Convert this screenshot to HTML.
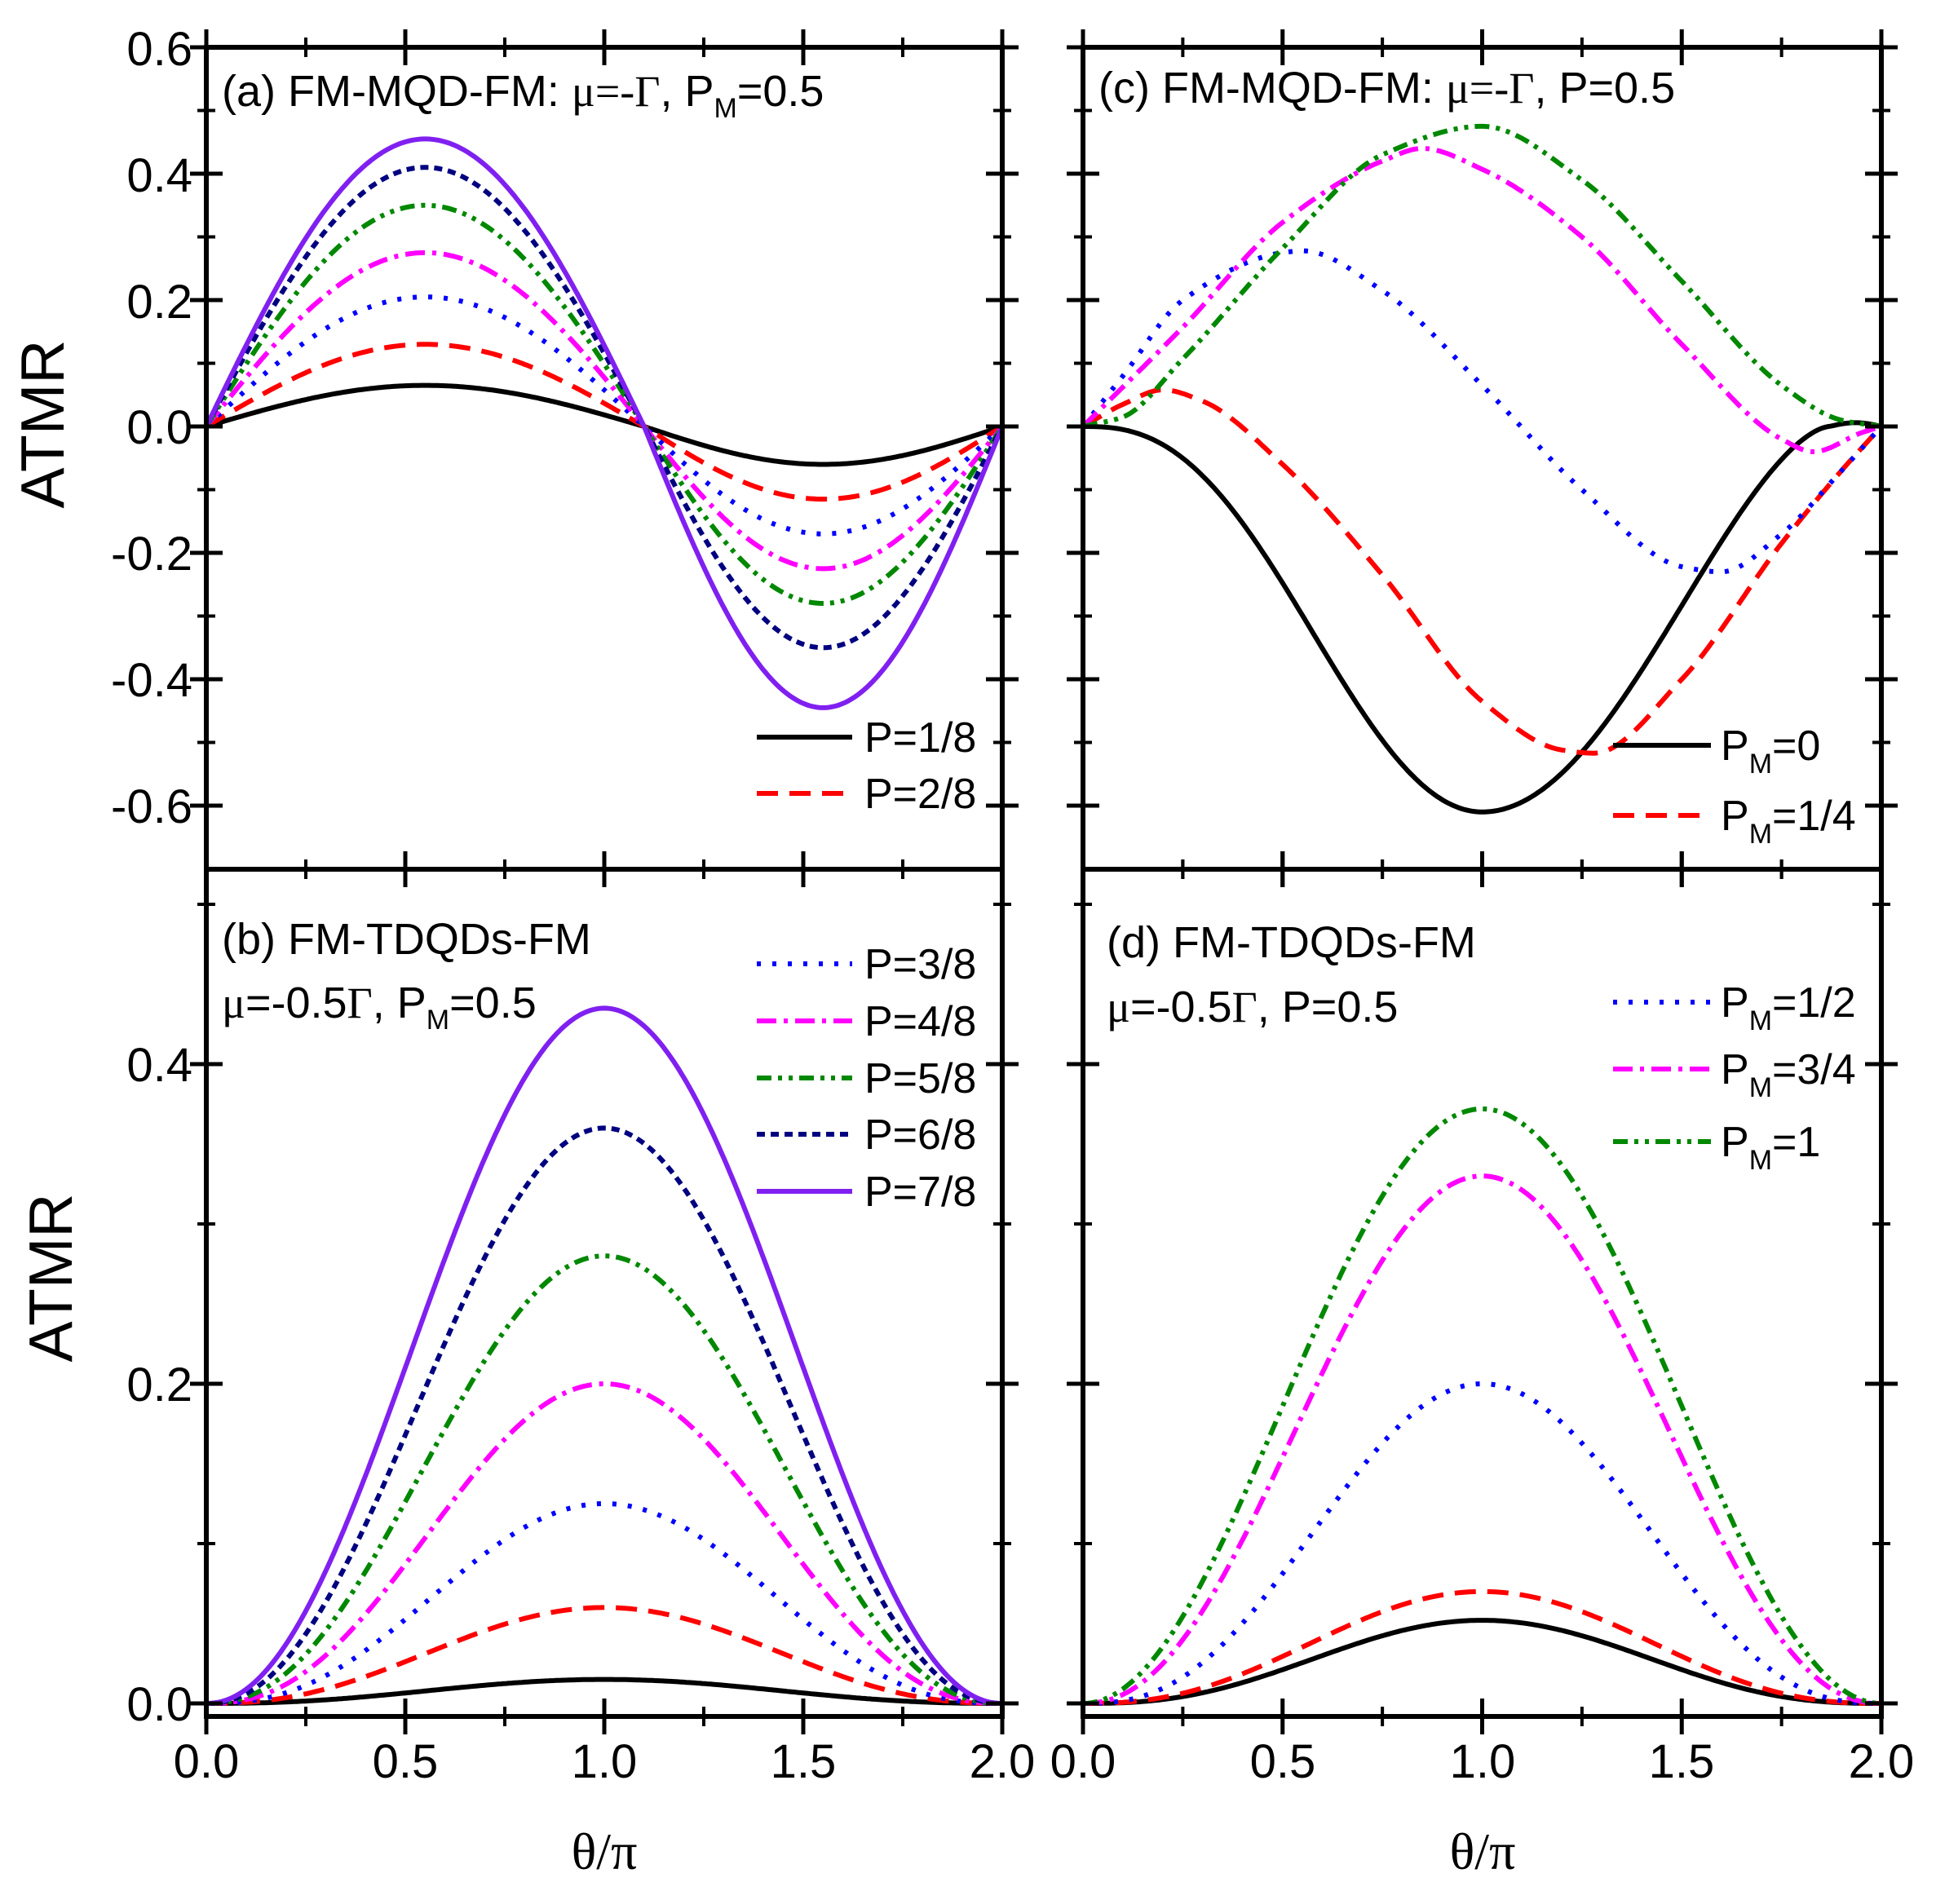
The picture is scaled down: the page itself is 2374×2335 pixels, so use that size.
<!DOCTYPE html>
<html><head><meta charset="utf-8"><style>
html,body{margin:0;padding:0;background:#fff}
svg{display:block}
text{font-family:"Liberation Sans",sans-serif;fill:#000}
.serif{font-family:"Liberation Serif",serif}
</style></head><body>
<svg id="s" width="2374" height="2335" viewBox="0 0 2374 2335" xmlns="http://www.w3.org/2000/svg">
<g id="curves" fill="none" stroke-width="6"></g>
<g id="axes"></g>
<g font-size="58">
<text x="236" y="80" text-anchor="end">0.6</text>
<text x="236" y="235" text-anchor="end">0.4</text>
<text x="236" y="390" text-anchor="end">0.2</text>
<text x="236" y="544" text-anchor="end">0.0</text>
<text x="236" y="699" text-anchor="end">-0.2</text>
<text x="236" y="854" text-anchor="end">-0.4</text>
<text x="236" y="1009" text-anchor="end">-0.6</text>
<text x="236" y="1326" text-anchor="end">0.4</text>
<text x="236" y="1718" text-anchor="end">0.2</text>
<text x="236" y="2110" text-anchor="end">0.0</text>
<text x="253" y="2180" text-anchor="middle">0.0</text>
<text x="497" y="2180" text-anchor="middle">0.5</text>
<text x="741" y="2180" text-anchor="middle">1.0</text>
<text x="985" y="2180" text-anchor="middle">1.5</text>
<text x="1229" y="2180" text-anchor="middle">2.0</text>
<text x="1328" y="2180" text-anchor="middle">0.0</text>
<text x="1573" y="2180" text-anchor="middle">0.5</text>
<text x="1818" y="2180" text-anchor="middle">1.0</text>
<text x="2062" y="2180" text-anchor="middle">1.5</text>
<text x="2307" y="2180" text-anchor="middle">2.0</text>
</g>
<text class="serif" x="741" y="2292" font-size="64" text-anchor="middle">θ/π</text>
<text class="serif" x="1818" y="2292" font-size="64" text-anchor="middle">θ/π</text>
<text x="0" y="0" font-size="75" text-anchor="middle" transform="translate(78,520) rotate(-90)">ATMR</text>
<text x="0" y="0" font-size="75" text-anchor="middle" transform="translate(88,1567) rotate(-90)">ATMR</text>
<g font-size="54">
<text x="272" y="130">(a) FM-MQD-FM:  <tspan class="serif">μ=-Γ</tspan>, P<tspan font-size="34" dy="14">M</tspan><tspan dy="-14">=0.5</tspan></text>
<text x="1347" y="126">(c) FM-MQD-FM: <tspan class="serif">μ=-Γ</tspan>, P=0.5</text>
<text x="272" y="1170">(b) FM-TDQDs-FM</text>
<text x="272" y="1248"><tspan class="serif">μ</tspan>=-0.5<tspan class="serif">Γ</tspan>, P<tspan font-size="34" dy="14">M</tspan><tspan dy="-14">=0.5</tspan></text>
<text x="1357" y="1174">(d) FM-TDQDs-FM</text>
<text x="1357" y="1253"><tspan class="serif">μ</tspan>=-0.5<tspan class="serif">Γ</tspan>, P=0.5</text>
</g>
<g id="leg" font-size="52"></g>
</svg>
<script>
var NS="http://www.w3.org/2000/svg";
function el(p,t,a){var e=document.createElementNS(NS,t);for(var k in a)e.setAttribute(k,a[k]);p.appendChild(e);return e;}
var C=document.getElementById('curves'),A=document.getElementById('axes'),L=document.getElementById('leg');
var styles={
 black:{stroke:"#000"},
 red:{stroke:"#f00","stroke-dasharray":"26 14"},
 blue:{stroke:"#00f","stroke-dasharray":"5 14","stroke-linecap":"butt"},
 mag:{stroke:"#f0f","stroke-dasharray":"24 9 5 9"},
 green:{stroke:"#080","stroke-dasharray":"18 8 5 8 5 8"},
 navy:{stroke:"#000080","stroke-dasharray":"10 7"},
 purple:{stroke:"#8020f0"}
};
function st(n){var o={};for(var k in styles[n])o[k]=styles[n][k];return o;}
var PA={x0:253,x1:1229,z:523,s:775,top:58,bot:1066};
var PB={x0:253,x1:1229,z:2089,s:1960,top:1066,bot:2105};
var PC={x0:1328,x1:2307,z:523,s:775,top:58,bot:1066};
var PD={x0:1328,x1:2307,z:2089,s:1960,top:1066,bot:2105};
function X(p,x){return p.x0+(p.x1-p.x0)*x/2;}
function Y(p,v){return p.z-p.s*v;}
function plotF(p,f,name){var d="";for(var i=0;i<=300;i++){var x=2*i/300;d+=(i?"L":"M")+X(p,x).toFixed(1)+","+Y(p,f(x)).toFixed(1);}var a=st(name);a.d=d;el(C,"path",a);}
function spline(pts){var n=pts.length,xs=pts.map(function(p){return p[0]}),ys=pts.map(function(p){return p[1]});
 var d=[],m=[];for(var i=0;i<n-1;i++)d.push((ys[i+1]-ys[i])/(xs[i+1]-xs[i]));
 m[0]=d[0];m[n-1]=d[n-2];
 for(i=1;i<n-1;i++){if(d[i-1]*d[i]<=0)m[i]=0;else{var h0=xs[i]-xs[i-1],h1=xs[i+1]-xs[i];var w1=2*h1+h0,w2=h1+2*h0;m[i]=(w1+w2)/(w1/d[i-1]+w2/d[i]);}}
 return function(x){var i=0;while(i<n-2&&x>xs[i+1])i++;var h=xs[i+1]-xs[i],t=(x-xs[i])/h,t2=t*t,t3=t2*t;
 return (2*t3-3*t2+1)*ys[i]+(t3-2*t2+t)*h*m[i]+(-2*t3+3*t2)*ys[i+1]+(t3-t2)*h*m[i+1];};}
function w(x){return x<1.1?x/1.1:1+(x-1.1)/0.9;}
var aAmp=[[0.065,0.06,"black"],[0.13,0.115,"red"],[0.205,0.17,"blue"],[0.275,0.225,"mag"],[0.35,0.28,"green"],[0.41,0.35,"navy"],[0.455,0.445,"purple"]];
aAmp.forEach(function(a){plotF(PA,function(x){var s=Math.sin(Math.PI*w(x));return s>0?a[0]*s:a[1]*s;},a[2]);});
var bA=[[0.015,1.2,"black"],[0.06,1.2,"red"],[0.125,1.25,"blue"],[0.2,1.2,"mag"],[0.28,1.15,"green"],[0.36,1.1,"navy"],[0.435,1.05,"purple"]];
bA.forEach(function(a){plotF(PB,function(x){return a[0]*Math.pow((1-Math.cos(Math.PI*x))/2,a[1]);},a[2]);});
var cP={
red:[[0,0],[0.1,0.035],[0.2,0.058],[0.3,0.04],[0.5,-0.06],[0.75,-0.235],[1.0,-0.435],[1.2,-0.512],[1.28,-0.517],[1.5,-0.4],[1.75,-0.185],[1.9,-0.07],[2,0]],
blue:[[0,0],[0.1,0.08],[0.25,0.2],[0.5,0.275],[0.55,0.278],[0.75,0.215],[1.0,0.065],[1.25,-0.1],[1.5,-0.222],[1.6,-0.23],[1.75,-0.17],[1.9,-0.07],[2,0]],
mag:[[0,0],[0.25,0.157],[0.5,0.323],[0.75,0.42],[0.85,0.44],[1.0,0.407],[1.25,0.3],[1.5,0.13],[1.75,-0.02],[1.83,-0.04],[1.95,-0.01],[2,0]],
green:[[0,0],[0.1,0.015],[0.25,0.107],[0.5,0.282],[0.75,0.43],[1.0,0.475],[1.25,0.39],[1.5,0.23],[1.75,0.065],[1.9,0.01],[2,0]]};
plotF(PC,function(x){
 if(x<=1)return -0.61*Math.pow((1-Math.cos(Math.PI*x))/2,1.3);
 if(x<=1.87){var t=(x-1)/0.87;return -0.61*Math.pow((1+Math.cos(Math.PI*t))/2,0.8);}
 return 0.006*Math.sin(Math.PI*(x-1.87)/0.13);},"black");
["red","blue","mag","green"].forEach(function(n){plotF(PC,spline(cP[n]),n);});
var dA=[[0.052,1.3,"black"],[0.07,1.25,"red"],[0.2,1.3,"blue"],[0.33,1.1,"mag"],[0.372,1.0,"green"]];
dA.forEach(function(a){plotF(PD,function(x){return a[0]*Math.pow((1-Math.cos(Math.PI*x))/2,a[1]);},a[2]);});
function ax(p,ymaj,ymin){
 el(A,"rect",{x:p.x0,y:p.top,width:p.x1-p.x0,height:p.bot-p.top,fill:"none",stroke:"#000","stroke-width":6});
 for(var i=0;i<=8;i++){var x=X(p,i*0.25),L=i%2?12:22;
  el(A,"line",{x1:x,x2:x,y1:p.bot-L,y2:p.bot+L,stroke:"#000","stroke-width":i%2?4:5});
  el(A,"line",{x1:x,x2:x,y1:p.top-L,y2:p.top+L,stroke:"#000","stroke-width":i%2?4:5});}
 ymaj.forEach(function(v){var y=Y(p,v);[p.x0,p.x1].forEach(function(xx){el(A,"line",{x1:xx-20,x2:xx+20,y1:y,y2:y,stroke:"#000","stroke-width":5});});});
 ymin.forEach(function(v){var y=Y(p,v);[p.x0,p.x1].forEach(function(xx){el(A,"line",{x1:xx-11,x2:xx+11,y1:y,y2:y,stroke:"#000","stroke-width":4});});});
}
ax(PA,[0.6,0.4,0.2,0,-0.2,-0.4,-0.6],[0.5,0.3,0.1,-0.1,-0.3,-0.5]);
ax(PC,[0.6,0.4,0.2,0,-0.2,-0.4,-0.6],[0.5,0.3,0.1,-0.1,-0.3,-0.5]);
ax(PB,[0,0.2,0.4],[0.1,0.3,0.5]);
ax(PD,[0,0.2,0.4],[0.1,0.3,0.5]);
function leg(x1,x2,tx,y,name,txt,sub){var a=st(name);a.d="M"+x1+","+y+"L"+x2+","+y;el(C,"path",a);
 var t=el(L,"text",{x:tx,y:y+18});
 if(sub){t.appendChild(document.createTextNode("P"));var s=el(t,"tspan",{"font-size":34,dy:16});s.textContent="M";var r=el(t,"tspan",{dy:-16});r.textContent=txt;}
 else t.textContent=txt;}
leg(928,1045,1060,904,"black","P=1/8");
leg(928,1045,1060,973,"red","P=2/8");
leg(928,1045,1060,1182,"blue","P=3/8");
leg(928,1045,1060,1252,"mag","P=4/8");
leg(928,1045,1060,1322,"green","P=5/8");
leg(928,1045,1060,1391,"navy","P=6/8");
leg(928,1045,1060,1461,"purple","P=7/8");
leg(1978,2098,2110,914,"black","=0",1);
leg(1978,2098,2110,1000,"red","=1/4",1);
leg(1978,2098,2110,1229,"blue","=1/2",1);
leg(1978,2098,2110,1311,"mag","=3/4",1);
leg(1978,2098,2110,1400,"green","=1",1);
</script>
</body></html>
